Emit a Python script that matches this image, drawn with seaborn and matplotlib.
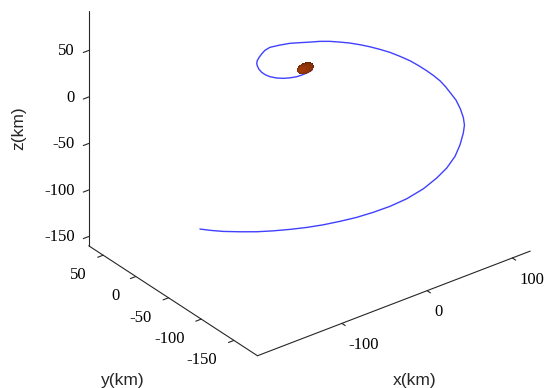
import numpy as np
import matplotlib
matplotlib.use("Agg")
import matplotlib.pyplot as plt
from matplotlib.transforms import ScaledTranslation
from mpl_toolkits.mplot3d import proj3d
import seaborn as sns

sns.set_theme(style="white")
plt.rcParams['font.family'] = ['Liberation Serif', 'DejaVu Serif']
plt.rcParams['axes.unicode_minus'] = False

# Relative trajectory of the chaser (km), from the far end inwards to the target
traj_x = [-125.1, -117.4, -108.6, -96.3, -84.0, -71.7, -58.7, -45.6, -32.8, -19.5,
          -6.0, 7.4, 21.7, 36.2, 51.3, 64.2, 74.4, 83.9, 90.8, 96.6,
          99.7, 101.0, 101.3, 100.5, 98.3, 96.6, 94.2, 90.9, 87.2, 82.6,
          77.7, 71.6, 65.3, 58.8, 52.1, 45.3, 38.4, 31.3, 24.1, 16.7,
          9.1, 1.6, -6.0, -13.9, -21.9, -26.5, -29.9, -32.9, -35.1, -36.2,
          -36.5, -36.2, -35.1, -33.0, -30.2, -25.8, -20.9, -15.8, -10.5, -5.7,
          -0.7, 2.7]
traj_y = [-1.7, -8.4, -15.8, -25.4, -34.8, -43.7, -52.8, -61.7, -70.0, -78.2,
          -86.2, -93.6, -101.0, -107.7, -113.4, -117.0, -119.0, -119.4, -118.0, -115.5,
          -113.2, -109.8, -105.0, -99.2, -92.9, -88.2, -83.0, -77.4, -71.7, -65.2,
          -58.6, -51.3, -44.1, -37.4, -30.7, -24.3, -18.0, -12.0, -6.1, -0.4,
          5.0, 10.5, 15.9, 20.9, 25.7, 27.5, 28.0, 28.2, 28.0, 27.3,
          26.1, 23.9, 21.2, 18.1, 14.9, 10.7, 6.7, 3.1, -0.3, -2.8,
          -5.2, -6.5]
traj_z = [-134.2, -135.3, -136.1, -136.4, -136.4, -135.7, -134.5, -132.9, -130.8, -128.0,
          -124.8, -120.8, -115.9, -109.8, -101.8, -93.1, -85.1, -75.6, -66.3, -56.8,
          -50.4, -44.3, -37.5, -30.2, -24.0, -19.4, -14.7, -10.5, -6.6, -2.4,
          1.5, 5.0, 8.2, 10.6, 12.7, 14.4, 15.7, 16.5, 17.1, 17.1,
          16.5, 16.0, 15.5, 14.1, 12.3, 9.8, 6.9, 4.0, 1.5, -0.6,
          -2.6, -5.4, -7.9, -9.9, -11.4, -12.4, -12.7, -12.3, -11.4, -9.9,
          -7.9, -6.0]

# Target body (km)
sat_center = (0.0, 0.0, -6.0)
sat_radii = (8.5, 4.5, 4.5)

x_ticks = [-100, 0, 100]
y_ticks = [-150, -100, -50, 0, 50]
z_ticks = [-150, -100, -50, 0, 50]
x_lim = (-199, 121)
y_lim = (-186, 72)
z_lim = (-160, 92.5)

fig = plt.figure(figsize=(5.49, 3.88), dpi=100)
ax = fig.add_axes([0.1428, 0.0668, 0.8197, 1.1598], projection='3d',
                  proj_type='ortho', computed_zorder=False)
ax.view_init(elev=30, azim=-127.5)

line_color = sns.color_palette(["#4040ff"])[0]
ax.plot(traj_x, traj_y, traj_z, color=line_color, lw=1.0, zorder=2)

# ellipsoidal target body
u = np.linspace(0, 2 * np.pi, 30)
v = np.linspace(0, np.pi, 16)
bx = sat_center[0] + sat_radii[0] * np.outer(np.cos(u), np.sin(v))
by = sat_center[1] + sat_radii[1] * np.outer(np.sin(u), np.sin(v))
bz = sat_center[2] + sat_radii[2] * np.outer(np.ones_like(u), np.cos(v))
ax.plot_surface(bx, by, bz, color="#a03a0a", shade=True, linewidth=0,
                antialiased=False, zorder=3)

ax.set_xlim(*x_lim)
ax.set_ylim(*y_lim)
ax.set_zlim(*z_lim)
ranges = [x_lim[1] - x_lim[0], y_lim[1] - y_lim[0], z_lim[1] - z_lim[0]]
ax.set_box_aspect(ranges, zoom=1.118)

ax.set_xticks(x_ticks)
ax.set_yticks(y_ticks)
ax.set_zticks(z_ticks)
ax.grid(False)
for axis in (ax.xaxis, ax.yaxis, ax.zaxis):
    axis.set_tick_params(label1On=False, label2On=False)
    axis.label.set_visible(False)
    axis.offsetText.set_visible(False)
    axis.set_pane_color((1, 1, 1, 0))
    axis.pane.set_edgecolor((1, 1, 1, 0))
    axis.line.set_color("#262626")
    axis.line.set_linewidth(0.8)
    axis._axinfo['tick']['inward_factor'] = 0.25
    axis._axinfo['tick']['outward_factor'] = 0.0
    axis._axinfo['tick']['color'] = "#262626"
    axis._axinfo['tick']['linewidth'] = {True: 0.8, False: 0.8}

proj = ax.get_proj()


def tick_label(x, y, z, text, ha, dx_px, dy_px):
    # project the tick's 3D anchor and nudge the label by a pixel offset
    px, py, _ = proj3d.proj_transform(x, y, z, proj)
    offset = ScaledTranslation(dx_px / fig.dpi, -dy_px / fig.dpi, fig.dpi_scale_trans)
    ax.text2D(px, py, text, ha=ha, va='baseline', fontsize=12, color="black",
              transform=ax.transData + offset)


for xv in x_ticks:
    tick_label(xv, y_lim[0], z_lim[0], str(xv), 'left', 7, 25.8)
for yv in y_ticks:
    tick_label(x_lim[0], yv, z_lim[0], str(yv), 'right', -16.5, 24.0)
for zv in z_ticks:
    tick_label(x_lim[0], y_lim[1], zv, str(zv), 'right', -14, 4.6)

label_font = dict(family=['Liberation Sans', 'DejaVu Sans'], fontsize=12.5)
fig.text(0.0337, 0.669, "z(km)", rotation=90, ha='center', va='center', **label_font)
fig.text(0.224, 0.0206, "y(km)", ha='center', va='center', **label_font)
fig.text(0.756, 0.0206, "x(km)", ha='center', va='center', **label_font)

fig.savefig("out.png", dpi=100)
